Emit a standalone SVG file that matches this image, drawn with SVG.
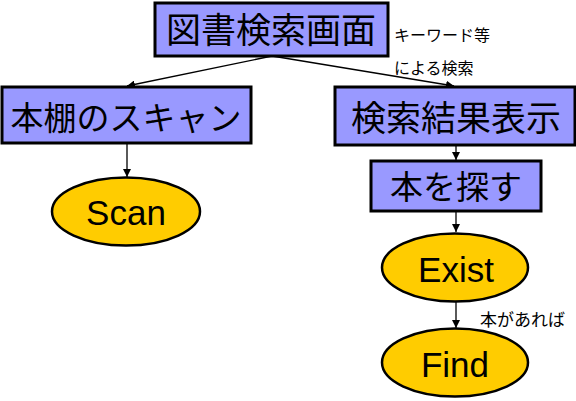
<svg xmlns="http://www.w3.org/2000/svg" width="576" height="401" viewBox="0 0 576 401">
<style>
.box{fill:#9999FF;stroke:#000;stroke-width:3}
.ell{fill:#FFCC00;stroke:#000;stroke-width:2.5}
.jp{font-family:"Noto Sans CJK JP","Liberation Sans",sans-serif;fill:#000}
.big{font-size:33px}
.lat{font-family:"Liberation Sans",Arial,sans-serif;font-size:35px;fill:#000;text-anchor:middle}
.small{font-size:16px}
.con{stroke:#000;stroke-width:1.3;fill:none;marker-end:url(#ah)}
</style>
<defs>
<marker id="ah" viewBox="0 0 10 10" refX="10" refY="5" markerWidth="8" markerHeight="8" markerUnits="userSpaceOnUse" orient="auto">
<path d="M0,0 L10,5 L0,10 z" fill="#000"/>
</marker>
</defs>
<rect width="576" height="401" fill="#fff"/>
<g id="connectors">
<line class="con" x1="272" y1="56" x2="127" y2="86"/>
<line class="con" x1="272" y1="56" x2="454" y2="86"/>
<line class="con" x1="127" y1="143" x2="127" y2="177"/>
<line class="con" x1="456" y1="145" x2="456" y2="160"/>
<line class="con" x1="456" y1="211" x2="456" y2="232"/>
<line class="con" x1="456" y1="302" x2="456" y2="328"/>
</g>
<g id="n_top">
<rect class="box" x="155" y="3" width="233" height="53"/>
<text class="jp big" x="271" y="43" text-anchor="middle" style="font-size:35px">図書検索画面</text>
</g>
<g id="lbl_keyword">
<text class="jp small" x="394" y="41">キーワード等</text>
<text class="jp small" x="394" y="74">による検索</text>
</g>
<g id="n_scan_box">
<rect class="box" x="2" y="87" width="249" height="56"/>
<text class="jp big" x="126" y="130" text-anchor="middle">本棚のスキャン</text>
</g>
<g id="n_scan">
<ellipse class="ell" cx="126" cy="211.5" rx="74" ry="34"/>
<text class="lat" x="126" y="225">Scan</text>
</g>
<g id="n_result">
<rect class="box" x="335" y="87" width="240" height="58"/>
<text class="jp big" x="456" y="131" text-anchor="middle" style="font-size:35px">検索結果表示</text>
</g>
<g id="n_search">
<rect class="box" x="371" y="161" width="170" height="50"/>
<text class="jp big" x="456" y="199" text-anchor="middle">本を探す</text>
</g>
<g id="n_exist">
<ellipse class="ell" cx="455" cy="267.5" rx="73" ry="34"/>
<text class="lat" x="456" y="282">Exist</text>
</g>
<g id="lbl_exist">
<text class="jp small" x="480" y="326" style="font-size:17px">本があれば</text>
</g>
<g id="n_find">
<ellipse class="ell" cx="455" cy="362.5" rx="73" ry="34"/>
<text class="lat" x="455" y="377">Find</text>
</g>
</svg>
